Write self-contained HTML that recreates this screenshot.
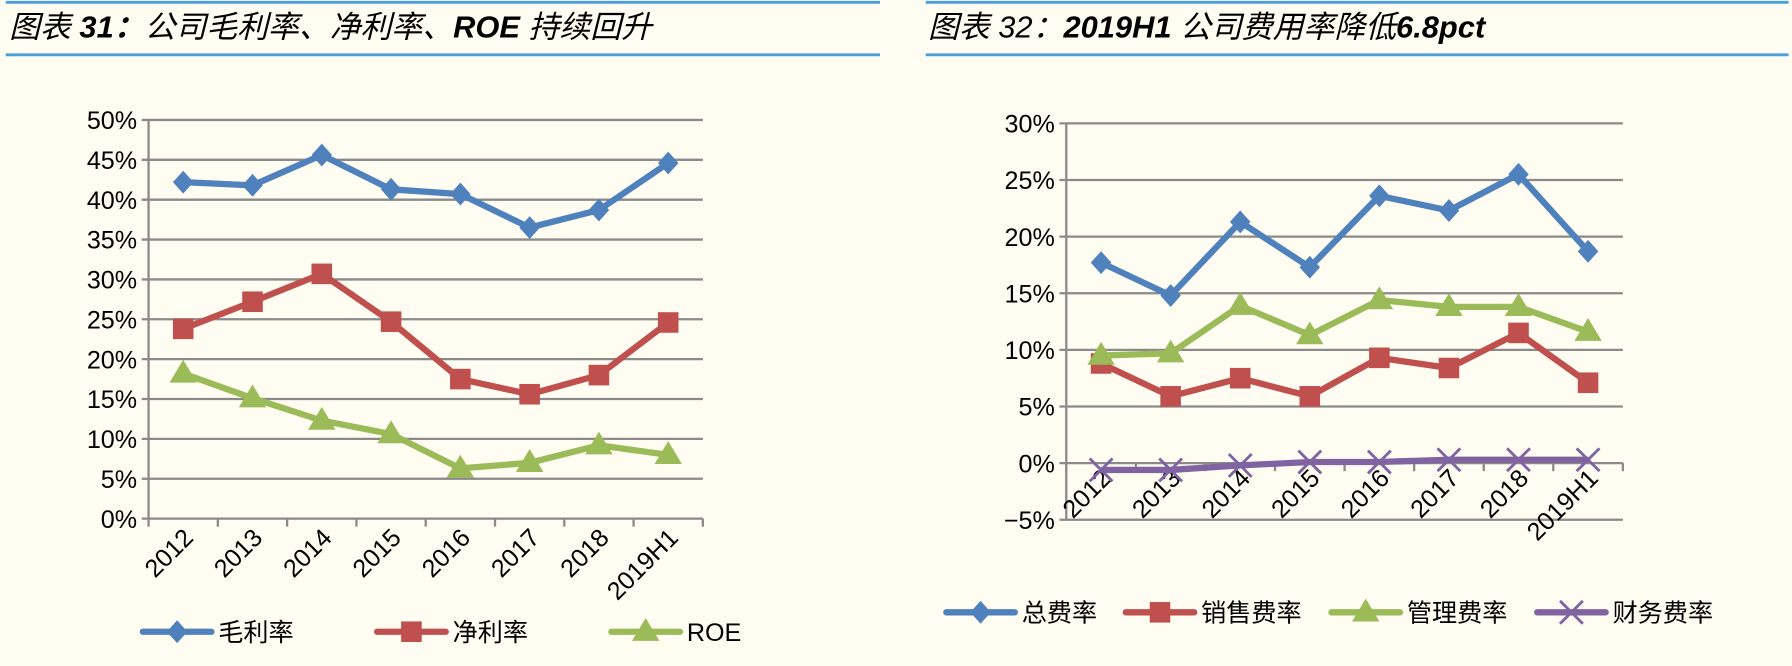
<!DOCTYPE html>
<html><head><meta charset="utf-8"><style>
html,body{margin:0;padding:0;background:#fffcf2;}
svg{display:block;font-family:"Liberation Sans","Noto Sans CJK SC",sans-serif;}
</style></head><body>
<svg id="s" width="1792" height="666" viewBox="0 0 1568 583" preserveAspectRatio="none">
<rect width="1568" height="583" fill="#fffcf2"/>
<g>
<line x1="5" y1="2" x2="770" y2="2" stroke="#4a9fdc" stroke-width="2.5"/>
<line x1="5" y1="48" x2="770" y2="48" stroke="#4a9fdc" stroke-width="2.5"/>
<text x="8" y="33" font-size="27" font-style="italic">图表 <tspan font-weight="bold">31：</tspan>公司毛利率、净利率、<tspan font-weight="bold">ROE</tspan> 持续回升</text>
</g>
<g>
<line x1="810" y1="2" x2="1565" y2="2" stroke="#4a9fdc" stroke-width="2.5"/>
<line x1="810" y1="48" x2="1565" y2="48" stroke="#4a9fdc" stroke-width="2.5"/>
<text x="812" y="33" font-size="27" font-style="italic">图表 32：<tspan font-weight="bold">2019H1</tspan> 公司费用率降低<tspan font-weight="bold">6.8pct</tspan></text>
</g>
<g id="c1"></g>
<g id="c2"></g>
</svg>
<script>
const categories = ["2012","2013","2014","2015","2016","2017","2018","2019H1"];
const grossMargin = [42.2,41.8,45.6,41.3,40.7,36.5,38.7,44.6];
const netMargin = [23.8,27.2,30.7,24.7,17.5,15.6,18.0,24.6];
const roe = [18.2,15.1,12.3,10.6,6.3,7.0,9.2,8.0];
const leftTicks = [0,5,10,15,20,25,30,35,40,45,50];
const totalExp = [17.7,14.8,21.3,17.3,23.6,22.3,25.5,18.7];
const salesExp = [8.8,5.9,7.5,5.9,9.3,8.4,11.5,7.1];
const adminExp = [9.5,9.7,13.9,11.3,14.4,13.8,13.8,11.6];
const finExp = [-0.6,-0.6,-0.2,0.1,0.1,0.3,0.3,0.3];
const rightTicks = [-5,0,5,10,15,20,25,30];

const NS="http://www.w3.org/2000/svg";
function mk(parent,tag,attrs,txt){const e=document.createElementNS(NS,tag);for(const k in attrs)e.setAttribute(k,attrs[k]);if(txt!==undefined)e.textContent=txt;parent.appendChild(e);return e;}
const COL={blue:"#4f81bd",red:"#c0504d",green:"#9bbb59",purple:"#8064a2"};
function marker(g,type,x,y,c){
  let m;
  if(type==="diamond") m=mk(g,"polygon",{points:`${x},${y-10} ${x+9},${y} ${x},${y+10} ${x-9},${y}`,fill:c});
  else if(type==="square") m=mk(g,"rect",{x:x-9,y:y-9,width:18,height:18,fill:c});
  else if(type==="triangle") m=mk(g,"polygon",{points:`${x},${y-12} ${x+12},${y+8} ${x-12},${y+8}`,fill:c});
  else m=mk(g,"path",{d:`M${x-10},${y-10}L${x+10},${y+10}M${x+10},${y-10}L${x-10},${y+10}`,stroke:c,"stroke-width":2.5,fill:"none"});
  return m;
}
function chart(g,o){
  const ys=v=>o.y0+(v-o.vmin)/(o.vmax-o.vmin)*(o.y1-o.y0);
  const bw=(o.x1-o.x0)/categories.length;
  const xs=i=>o.x0+bw*(i+0.5);
  o.ticks.forEach(t=>{
    const y=ys(t);
    const l=mk(g,"line",{x1:o.x0-6,y1:y,x2:o.x1,y2:y,stroke:"#8a8a8a","stroke-width":2});
    
    
    const tx=mk(g,"text",{x:o.x0-10,y:y+8,"font-size":22,"text-anchor":"end",fill:"#000"},(t<0?"−"+(-t):t)+"%");
    
    
  });
  const ax=mk(g,"line",{x1:o.x0,y1:ys(o.vmin),x2:o.x0,y2:ys(o.vmax),stroke:"#8a8a8a","stroke-width":2});
  
  
  const ay=ys(o.axisAt);
  for(let i=0;i<=categories.length;i++){
    const x=o.x0+bw*i;
    const tk=mk(g,"line",{x1:x,y1:ay,x2:x,y2:ay+7,stroke:"#8a8a8a","stroke-width":2});
    
    
  }
  categories.forEach((c,i)=>{
    const x=xs(i)+10, y=o.labelY;
    const t=mk(g,"text",{x:x,y:y,"font-size":22,"text-anchor":"end",transform:`rotate(-45 ${x} ${y})`},c);
    
    
  });
  o.series.forEach(s=>{
    const sg=mk(g,"g",{});
    
    
    const p=mk(sg,"polyline",{points:s.data.map((v,i)=>xs(i)+","+ys(v)).join(" "),fill:"none",stroke:s.c,"stroke-width":5.5,"stroke-linejoin":"round"});
    
    
    s.data.forEach((v,i)=>{
      const m=marker(sg,s.m,xs(i),ys(v),s.c);
      
      
    });
  });
  o.series.forEach((s,k)=>{
    const lg=mk(g,"g",{});
    
    
    const lx=o.legX[k], ly=o.legY;
    mk(lg,"line",{x1:lx,y1:ly,x2:lx+60,y2:ly,stroke:s.c,"stroke-width":5.5,"stroke-linecap":"round"});
    marker(lg,s.m,lx+30,ly,s.c);
    mk(lg,"text",{x:lx+66,y:ly+8,"font-size":22},s.name);
  });
}
chart(document.getElementById("c1"),{x0:130,x1:615,y0:454,y1:105,vmin:0,vmax:50,axisAt:0,ticks:leftTicks,labelY:472,legY:553,legX:[125,330,535],
  series:[{id:"gross-margin",name:"毛利率",data:grossMargin,c:COL.blue,m:"diamond"},
          {id:"net-margin",name:"净利率",data:netMargin,c:COL.red,m:"square"},
          {id:"roe",name:"ROE",data:roe,c:COL.green,m:"triangle"}]});
chart(document.getElementById("c2"),{x0:933,x1:1420,y0:455,y1:108,vmin:-5,vmax:30,axisAt:0,ticks:rightTicks,labelY:420,legY:536,legX:[828,985,1165,1345],
  series:[{id:"total-expense",name:"总费率",data:totalExp,c:COL.blue,m:"diamond"},
          {id:"sales-expense",name:"销售费率",data:salesExp,c:COL.red,m:"square"},
          {id:"admin-expense",name:"管理费率",data:adminExp,c:COL.green,m:"triangle"},
          {id:"finance-expense",name:"财务费率",data:finExp,c:COL.purple,m:"x"}]});
</script>
</body></html>
